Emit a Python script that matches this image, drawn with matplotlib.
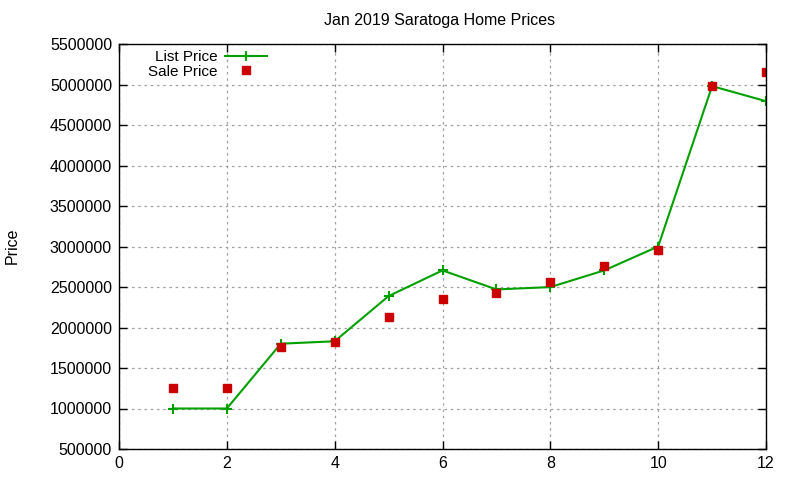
import matplotlib
matplotlib.use('Agg')
import matplotlib.pyplot as plt

months = [1, 2, 3, 4, 5, 6, 7, 8, 9, 10, 11, 12]
list_price = [1000000, 1000000, 1800000, 1830000, 2388000, 2705000,
              2470000, 2499000, 2705000, 3000000, 4980000, 4794000]
sale_price = [1250000, 1250000, 1760000, 1822000, 2131000, 2353000,
              2427000, 2559000, 2757000, 2958000, 4983000, 5156000]

xticks = [0, 2, 4, 6, 8, 10, 12]
yticks = list(range(500000, 5500001, 500000))

plt.rcParams['font.family'] = ['Liberation Sans', 'DejaVu Sans']

fig = plt.figure(figsize=(8, 4.8), dpi=100)
ax = fig.add_axes([119 / 800, 1 - 449 / 480, (766 - 119) / 800, (449 - 44) / 480])

ax.plot(months, list_price, color='#00a000', lw=1.5, marker='+', ms=7,
        mew=1.5, label='List Price')
ax.plot(months, sale_price, ls='none', color='#cc0000', marker='s', ms=5.6,
        label='Sale Price')

ax.set_xlim(0, 12)
ax.set_ylim(500000, 5500000)
ax.set_xticks(xticks)
ax.set_yticks(yticks)
ax.set_yticklabels([str(v) for v in yticks])
ax.tick_params(direction='in', top=True, right=True, labelsize=11.5, length=6, width=1)
ax.tick_params(axis='x', pad=5)
ax.tick_params(axis='y', pad=5)
ax.grid(True, color='#a0a0a0', ls=(0, (2, 3)), lw=0.9)
for s in ax.spines.values():
    s.set_linewidth(1)

fig.text(440 / 800, 1 - 20 / 480, 'Jan 2019 Saratoga Home Prices', ha='center',
         va='center', fontsize=11.5)
fig.text(12 / 800, 1 - 246 / 480, 'Price', rotation=90, ha='center', va='center',
         fontsize=11.5)

ax.legend(loc='upper left', markerfirst=False, frameon=False, fontsize=11,
          bbox_to_anchor=(148 / 800, 1 - 50 / 480), bbox_transform=fig.transFigure,
          borderpad=0, borderaxespad=0, handlelength=2.75, handletextpad=0.52,
          labelspacing=0.05)

fig.savefig('out.png', dpi=100)
